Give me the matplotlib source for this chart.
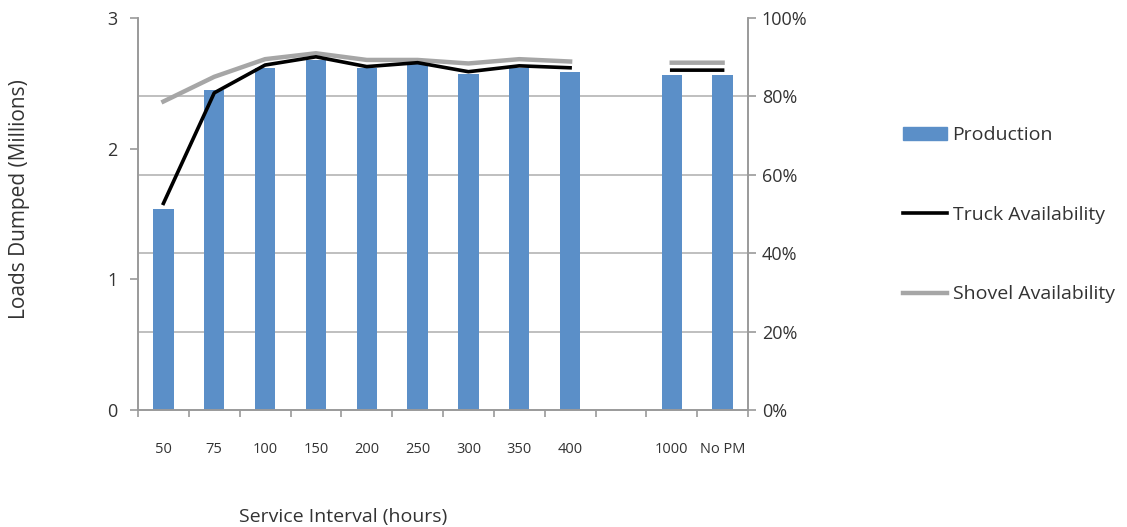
import numpy as np
import matplotlib.pyplot as plt
from matplotlib.patches import Patch
from matplotlib.lines import Line2D
from matplotlib.ticker import PercentFormatter

plt.rcParams['font.family'] = ['Open Sans', 'DejaVu Sans']

# service intervals (blank slot separates the long intervals)
intervals = ['50', '75', '100', '150', '200', '250', '300', '350', '400', '', '1000', 'No PM']
production = [1.54, 2.45, 2.62, 2.68, 2.62, 2.65, 2.57, 2.62, 2.59, np.nan, 2.56, 2.56]     # millions of loads
truck_avail = [0.527, 0.809, 0.880, 0.901, 0.876, 0.886, 0.863, 0.878, 0.873, np.nan, 0.867, 0.867]
shovel_avail = [0.787, 0.850, 0.895, 0.910, 0.893, 0.893, 0.884, 0.895, 0.889, np.nan, 0.886, 0.886]

axis_grey = '#9a9a9a'
text_grey = '#333333'

fig = plt.figure(figsize=(11.27, 5.27), dpi=100)
ax = fig.add_axes([138 / 1127, 117 / 527, 610 / 1127, 392 / 527])
x = np.arange(len(intervals))

ax.bar(x, production, width=0.4, color='#5b8fc8', zorder=2)
ax.set_xlim(-0.5, len(intervals) - 0.5)
ax.set_ylim(0, 3)
ax.set_yticks([0, 1, 2, 3])

# gridlines follow the percentage axis (every 20%)
pct_ticks = np.linspace(0, 1, 6)
ax.set_yticks(pct_ticks * 3, minor=True)
ax.grid(axis='y', which='minor', color='#b4b4b4', lw=1.2)
ax.tick_params(axis='y', which='minor', length=0)
ax.set_axisbelow(True)

# category boundaries as tick marks, names in between
ax.set_xticks(np.arange(-0.5, len(intervals), 1))
ax.set_xticklabels([])
ax.set_xticks(x, minor=True)
ax.set_xticklabels(intervals, minor=True, fontsize=10.5, color=text_grey)
ax.tick_params(axis='x', which='major', length=5, color=axis_grey, width=1.2)
ax.tick_params(axis='x', which='minor', length=0, pad=23)
ax.tick_params(axis='y', which='major', length=6, color=axis_grey, width=1.2,
               labelsize=13, labelcolor=text_grey, pad=9)

ax2 = ax.twinx()
ax2.plot(x, shovel_avail, color='#a6a6a6', lw=3.2, zorder=3)
ax2.plot(x, truck_avail, color='black', lw=2.6, zorder=4)
ax2.set_ylim(0, 1)
ax2.set_yticks(pct_ticks)
ax2.yaxis.set_major_formatter(PercentFormatter(1.0, decimals=0))
ax2.tick_params(axis='y', length=6, color=axis_grey, width=1.2,
                labelsize=13, labelcolor=text_grey, pad=4)

for a in (ax, ax2):
    a.spines['top'].set_visible(False)
    for side in ('left', 'right', 'bottom'):
        a.spines[side].set_color(axis_grey)
        a.spines[side].set_linewidth(1.2)

fig.text(343 / 1127, 10 / 527, 'Service Interval (hours)', ha='center', va='center',
         fontsize=14, color=text_grey)
fig.text(20 / 1127, 328 / 527, 'Loads Dumped (Millions)', ha='center', va='center',
         rotation=90, fontsize=15, color=text_grey)

handles = [Patch(color='#5b8fc8'),
           Line2D([], [], color='black', lw=2.6),
           Line2D([], [], color='#a6a6a6', lw=3.2)]
fig.legend(handles, ['Production', 'Truck Availability', 'Shovel Availability'],
           loc='upper left', bbox_to_anchor=(903 / 1127, 401 / 527), frameon=False,
           borderaxespad=0, borderpad=0, fontsize=14, labelcolor=text_grey,
           handlelength=2.27, handleheight=0.68, handletextpad=0.28, labelspacing=3.17)

fig.savefig('out.png', dpi=100)
